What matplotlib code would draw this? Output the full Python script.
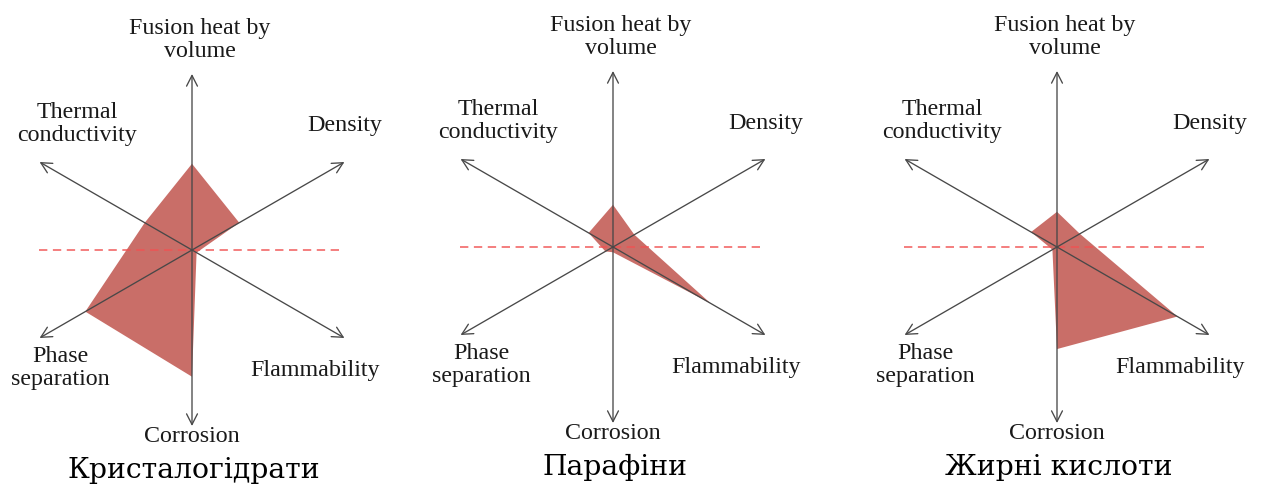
import numpy as np
import matplotlib
matplotlib.use("Agg")
import matplotlib.pyplot as plt

plt.rcParams['lines.scale_dashes'] = False

# Six property axes, in drawing order around the star
categories = ['Fusion heat by\nvolume', 'Density', 'Flammability',
              'Corrosion', 'Phase\nseparation', 'Thermal\nconductivity']
angles_deg = [90, 30, -30, -90, -150, 150]

# Relative scores (0 = centre, 1 = arrow tip)
crystal_hydrates = [0.49, 0.31, 0.03, 0.72, 0.70, 0.31]
paraffins = [0.24, 0.14, 0.64, 0.03, 0.05, 0.16]
fatty_acids = [0.20, 0.15, 0.79, 0.58, 0.03, 0.17]

titles = ['Кристалогідрати', 'Парафіни', 'Жирні кислоти']
series = [crystal_hydrates, paraffins, fatty_acids]

# Figure geometry (pixels)
FIG_W, FIG_H, DPI = 1265, 486, 100
centers_px = [(192, 250), (613, 247), (1057, 247)]
AX_W = 420          # width of each panel in px
L = 176.0           # arrow length in px -> 1 data unit

# Label anchor offsets from the centre (px, y downward)
label_offsets = {
    'Fusion heat by\nvolume': (8, -210),
    'Density': (153, -124),
    'Flammability': (123, 120),
    'Corrosion': (0, 186),
    'Phase\nseparation': (-132, 118),
    'Thermal\nconductivity': (-115, -126),
}
title_offset = (2, 220)

fill_color = '#c96e68'
axis_color = '#484848'
dash_color = '#f05252'

fig = plt.figure(figsize=(FIG_W / DPI, FIG_H / DPI), dpi=DPI)

theta = np.deg2rad(angles_deg)

for (cx, cy), vals, title in zip(centers_px, series, titles):
    ax = fig.add_axes([(cx - AX_W / 2) / FIG_W, 0, AX_W / FIG_W, 1])
    ax.set_xlim(-AX_W / 2 / L, AX_W / 2 / L)
    ax.set_ylim(-(FIG_H - cy) / L, cy / L)
    ax.axis('off')

    v = np.asarray(vals)
    ax.fill(v * np.cos(theta), v * np.sin(theta), color=fill_color,
            lw=0, zorder=1)

    for t in theta:
        ax.annotate('', xy=(np.cos(t), np.sin(t)), xytext=(0, 0),
                    arrowprops=dict(arrowstyle='->,head_length=0.55,head_width=0.28',
                                    color=axis_color, lw=0.95,
                                    shrinkA=0, shrinkB=0, mutation_scale=14),
                    zorder=3)

    ax.plot([-0.87, 0.84], [0, 0], color=dash_color, lw=1.3, alpha=0.8,
            dashes=(6, 4), zorder=2)

    for name in categories:
        dx, dy = label_offsets[name]
        ax.text(dx / L, -dy / L, name, ha='center', va='center',
                fontsize=17.3, family='Liberation Serif', color='#1a1a1a',
                linespacing=1.17)

    ax.text(title_offset[0] / L, -title_offset[1] / L, title,
            ha='center', va='center', fontsize=20.3, family='DejaVu Serif',
            color='black')

fig.savefig('out.png', dpi=DPI)
